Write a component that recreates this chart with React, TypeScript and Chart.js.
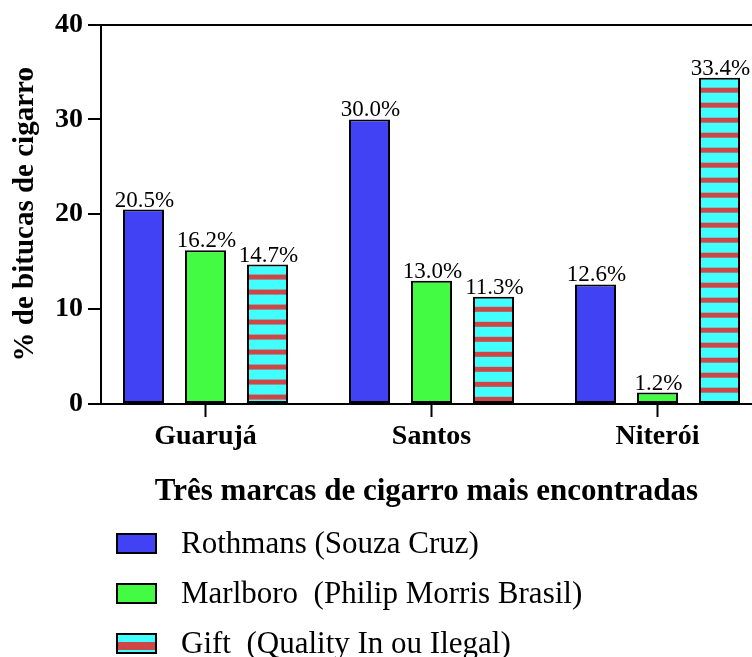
import { useEffect, useRef } from 'react';
import { Chart, registerables } from 'chart.js';

Chart.register(...registerables);

const categories = ['Guarujá', 'Santos', 'Niterói'];
const seriesNames = [
  'Rothmans (Souza Cruz)',
  'Marlboro  (Philip Morris Brasil)',
  'Gift  (Quality In ou Ilegal)',
];
const rothmans = [20.5, 30.0, 12.6];
const marlboro = [16.2, 13.0, 1.2];
const gift = [14.7, 11.3, 34.4];
const rothmansLabels = ['20.5%', '30.0%', '12.6%'];
const marlboroLabels = ['16.2%', '13.0%', '1.2%'];
const giftLabels = ['14.7%', '11.3%', '33.4%'];
const yTickValues = [0, 10, 20, 30, 40];
const yTitle = '% de bitucas de cigarro';
const xTitle = 'Três marcas de cigarro mais encontradas';

const BLUE = '#4242F5';
const GREEN = '#42FB42';
const CYAN = '#42FFFF';
const RED = '#CE4646';
const SERIF = '"Liberation Serif", "Times New Roman", serif';

const W = 752;
const H = 657;

function stripeCanvas(): HTMLCanvasElement {
  const c = document.createElement('canvas');
  c.width = 8;
  c.height = 15;
  const g = c.getContext('2d')!;
  g.fillStyle = CYAN;
  g.fillRect(0, 0, 8, 15);
  g.fillStyle = RED;
  g.fillRect(0, 10, 8, 5);
  return c;
}

const allLabels = [rothmansLabels, marlboroLabels, giftLabels];

const valueLabelPlugin = {
  id: 'valueLabels',
  afterDatasetsDraw(chart: any) {
    const ctx = chart.ctx;
    ctx.save();
    ctx.font = `23px ${SERIF}`;
    ctx.fillStyle = '#000';
    ctx.textAlign = 'center';
    ctx.textBaseline = 'alphabetic';
    chart.data.datasets.forEach((_ds: any, di: number) => {
      const meta = chart.getDatasetMeta(di);
      meta.data.forEach((el: any, i: number) => {
        ctx.fillText(allLabels[di][i], el.x + 1, el.y - 3);
      });
    });
    ctx.restore();
  },
};

const legendPlugin = {
  id: 'customLegend',
  afterDraw(chart: any) {
    const ctx = chart.ctx;
    const rowTops = [533, 583, 633];
    const boxX = 116;
    const boxW = 41;
    const boxH = 21;
    ctx.save();
    chart.data.datasets.forEach((ds: any, i: number) => {
      const top = rowTops[i];
      if (i === 2) {
        ctx.fillStyle = CYAN;
        ctx.fillRect(boxX, top, boxW, boxH);
        ctx.fillStyle = RED;
        ctx.fillRect(boxX, top + 9, boxW, 8);
      } else {
        ctx.fillStyle = ds.backgroundColor;
        ctx.fillRect(boxX, top, boxW, boxH);
      }
      ctx.lineWidth = 2;
      ctx.strokeStyle = '#000';
      ctx.strokeRect(boxX + 1, top + 1, boxW - 2, boxH - 2);
      ctx.fillStyle = '#000';
      ctx.font = `31px ${SERIF}`;
      ctx.textAlign = 'left';
      ctx.textBaseline = 'alphabetic';
      ctx.fillText(ds.label, 181, top + 20);
    });
    ctx.restore();
  },
};

export default function App() {
  const ref = useRef<HTMLCanvasElement | null>(null);

  useEffect(() => {
    if (!ref.current) return;
    const stripe = stripeCanvas();
    const toXY = (arr: number[]) => arr.map((v, i) => ({ x: i, y: v }));

    const chart = new Chart(ref.current, {
      type: 'bar',
      data: {
        datasets: [
          {
            label: seriesNames[0],
            data: toXY(rothmans),
            backgroundColor: BLUE,
            borderColor: '#000',
            borderWidth: 2,
          },
          {
            label: seriesNames[1],
            data: toXY(marlboro),
            backgroundColor: GREEN,
            borderColor: '#000',
            borderWidth: 2,
          },
          {
            label: seriesNames[2],
            data: toXY(gift),
            backgroundColor: (c: any) => {
              if (!c.raw || !c.chart.scales || !c.chart.scales.y) return CYAN;
              const p = c.chart.ctx.createPattern(stripe, 'repeat');
              const top = c.chart.scales.y.getPixelForValue(c.raw.y);
              if (p && typeof DOMMatrix !== 'undefined') {
                p.setTransform(new DOMMatrix([1, 0, 0, 1, 0, top]));
              }
              return p || CYAN;
            },
            borderColor: '#000',
            borderWidth: 2,
          },
        ] as any,
      },
      options: {
        responsive: false,
        maintainAspectRatio: false,
        animation: false,
        layout: { padding: { top: 24.5, right: 0, bottom: 0, left: 0 } },
        datasets: {
          bar: {
            categoryPercentage: 0.823,
            barPercentage: 0.6613,
            borderSkipped: false,
          },
        },
        plugins: {
          legend: { display: false },
          tooltip: { enabled: false },
        },
        scales: {
          x: {
            type: 'linear',
            min: -0.4624,
            max: 2.4181,
            offset: false,
            afterBuildTicks: (scale: any) => {
              scale.ticks = categories.map((_, i) => ({ value: i }));
            },
            afterFit: (scale: any) => {
              scale.height = H - 404;
            },
            ticks: {
              autoSkip: false,
              maxRotation: 0,
              minRotation: 0,
              padding: 3,
              color: '#000',
              font: { family: SERIF, size: 28, weight: 'bold', lineHeight: 1.2 },
              callback: (v: any) => categories[v] ?? '',
            },
            grid: {
              offset: false,
              drawOnChartArea: false,
              drawTicks: true,
              tickLength: 13,
              tickColor: '#000',
              tickWidth: 2,
            },
            border: { display: true, color: '#000', width: 2 },
            title: {
              display: true,
              text: xTitle,
              color: '#000',
              font: { family: SERIF, size: 31, weight: 'bold', lineHeight: 1.2 },
              padding: { top: 0, bottom: 146 },
            },
          },
          y: {
            type: 'linear',
            min: 0,
            max: 40,
            afterBuildTicks: (scale: any) => {
              scale.ticks = yTickValues.map((v) => ({ value: v }));
            },
            afterFit: (scale: any) => {
              scale.width = 101;
            },
            ticks: {
              padding: 5,
              color: '#000',
              font: { family: SERIF, size: 28, weight: 'bold', lineHeight: 1.2 },
            },
            grid: {
              drawOnChartArea: true,
              color: (c: any) => (c.tick && c.tick.value === 40 ? '#000' : 'rgba(0,0,0,0)'),
              lineWidth: 2,
              tickLength: 13,
              tickColor: '#000',
              tickWidth: 2,
            },
            border: { display: true, color: '#000', width: 2 },
            title: {
              display: true,
              text: yTitle,
              color: '#000',
              font: { family: SERIF, size: 29, weight: 'bold', lineHeight: 1.2 },
              padding: { top: 8, bottom: 0 },
            },
          },
        },
      } as any,
      plugins: [valueLabelPlugin, legendPlugin],
    });

    return () => chart.destroy();
  }, []);

  return (
    <div style={{ position: 'absolute', left: 0, top: 0, width: W, height: H, overflow: 'hidden', background: '#fff' }}>
      <canvas ref={ref} width={W} height={H} style={{ display: 'block', width: W, height: H }} />
    </div>
  );
}
